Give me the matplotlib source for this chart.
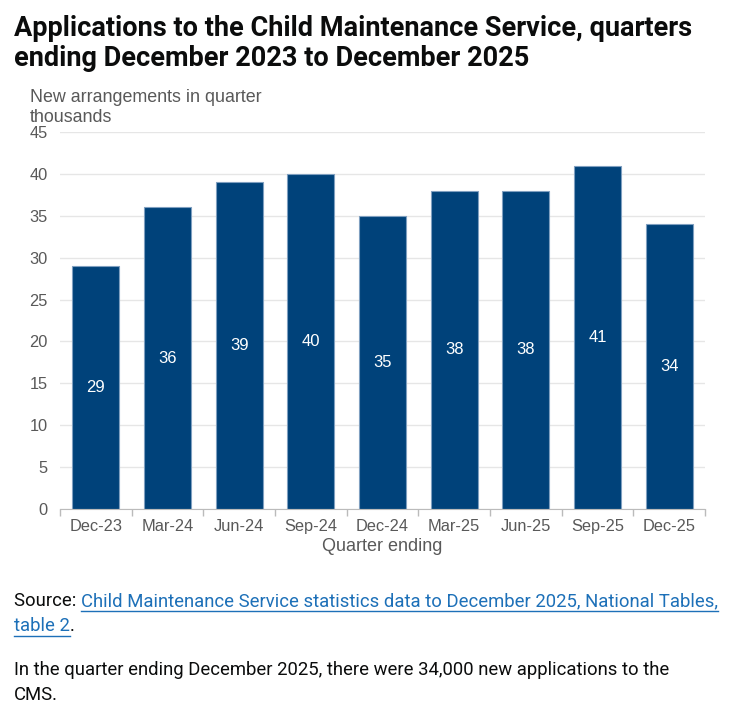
import matplotlib
matplotlib.use("Agg")
import matplotlib.pyplot as plt
from matplotlib.lines import Line2D

quarters = ["Dec-23", "Mar-24", "Jun-24", "Sep-24", "Dec-24",
            "Mar-25", "Jun-25", "Sep-25", "Dec-25"]
applications = [29, 36, 39, 40, 35, 38, 38, 41, 34]
y_ticks = [0, 5, 10, 15, 20, 25, 30, 35, 40, 45]

title_lines = ["Applications to the Child Maintenance Service, quarters",
               "ending December 2023 to December 2025"]
y_label_lines = ["New arrangements in quarter", "thousands"]
source_link_1 = "Child Maintenance Service statistics data to December 2025, National Tables,"
source_link_2 = "table 2"
summary_lines = ["In the quarter ending December 2025, there were 34,000 new applications to the",
                 "CMS."]

BAR = "#00427a"
GREY = "#595959"
LINK = "#1d70b8"
INK = "#0b0c0c"
W, H = 730, 714

fig = plt.figure(figsize=(W / 100, H / 100), dpi=100)
ax = fig.add_axes([60 / W, 1 - 509 / H, 645 / W, 377 / H])

x = list(range(len(quarters)))
ax.bar(x, applications, width=0.66, color=BAR, edgecolor="#7f9fc0", linewidth=0.8, zorder=3)
for xi, v in zip(x, applications):
    ax.text(xi, v / 2, str(v), ha="center", va="center", color="white",
            fontsize=12, family="Liberation Sans", zorder=4)

ax.set_xlim(-0.5, len(quarters) - 0.5)
ax.set_ylim(0, 45)
ax.set_yticks(y_ticks)
ax.set_xticks(x)
ax.set_xticklabels(quarters)
ax.set_xticks([i - 0.5 for i in range(len(quarters) + 1)], minor=True)
ax.tick_params(axis="x", which="major", length=0, pad=7, labelsize=11.8, labelcolor=GREY)
ax.tick_params(axis="x", which="minor", length=5, color="#bbbbbb", width=1)
ax.tick_params(axis="y", length=0, pad=9, labelsize=11.8, labelcolor=GREY)
for lab in ax.get_xticklabels() + ax.get_yticklabels():
    lab.set_family("Liberation Sans")
ax.grid(axis="y", color="#e6e6e6", linewidth=1, zorder=0)
for side in ["top", "right", "left"]:
    ax.spines[side].set_visible(False)
ax.spines["bottom"].set_color("#bbbbbb")
ax.spines["bottom"].set_zorder(5)

ax.set_xlabel("Quarter ending", fontsize=13, color=GREY, family="Liberation Sans", labelpad=3)
for yp, line in zip([98, 117], y_label_lines):
    fig.text(30 / W, 1 - yp / H, line, ha="left", va="center",
             fontsize=12.9, color=GREY, family="Liberation Sans")

for yp, line in zip([28, 58], title_lines):
    fig.text(14 / W, 1 - yp / H, line, ha="left", va="center", fontsize=19.5,
             fontweight="bold", family="Roboto", color=INK)

body = dict(fontsize=13.3, family="Roboto")
t1 = fig.text(14 / W, 1 - 606 / H, "Source: ", color=INK, ha="left", va="baseline", **body)
t2 = fig.text(0, 0, source_link_1, color=LINK, ha="left", va="baseline", **body)
t3 = fig.text(14 / W, 1 - 631 / H, source_link_2, color=LINK, ha="left", va="baseline", **body)
t4 = fig.text(0, 0, ".", color=INK, ha="left", va="baseline", **body)
for yp, line in zip([675, 700], summary_lines):
    fig.text(14 / W, 1 - yp / H, line, color=INK, ha="left", va="baseline", **body)

# place the link pieces next to the plain text, then underline them
fig.canvas.draw()
r = fig.canvas.get_renderer()
b1 = t1.get_window_extent(r)
t2.set_position((b1.x1 / W, t1.get_position()[1]))
b3 = t3.get_window_extent(r)
t4.set_position((b3.x1 / W, t3.get_position()[1]))
fig.canvas.draw()
for t in (t2, t3):
    bb = t.get_window_extent(r)
    yb = t.get_position()[1] * H - 5
    fig.add_artist(Line2D([bb.x0 / W, bb.x1 / W], [yb / H, yb / H], color=LINK, linewidth=1))

fig.savefig("out.png", dpi=100)
